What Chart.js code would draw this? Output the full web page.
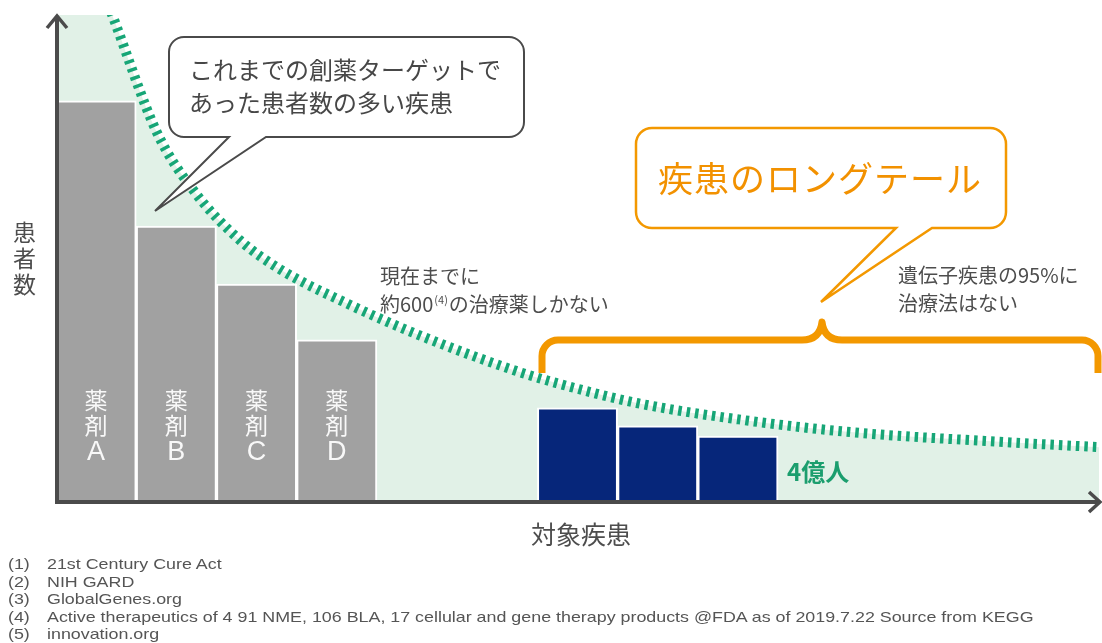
<!DOCTYPE html>
<html lang="ja">
<head>
<meta charset="utf-8">
<script src="https://cdn.jsdelivr.net/npm/chart.js@4"></script>
<style>
    body { margin: 0; background: #fff; }
    .wrap { position: relative; width: 1102px; height: 643px; overflow: hidden; font-family: "Noto Sans CJK JP", sans-serif; color: #4d4d4d; }
    canvas { position: absolute; left: 0; top: 0; }
    .t { position: absolute; white-space: nowrap; line-height: 1; }
    .callout { font-size: 24px; color: #474747; }
    .note { font-size: 20px; }
    .note sup { font-size: 11px; vertical-align: 8px; margin: 0 1px; }
    .longtail { font-size: 35px; color: #f29100; letter-spacing: 1px; }
    .people { font-size: 24px; font-weight: bold; color: #1b9e6e; }
    .src { position: absolute; left: 0; font-family: "Liberation Sans", Arial, sans-serif; font-size: 15px; color: #555; white-space: nowrap; line-height: 1; }
    .src span { position: absolute; transform: scaleX(1.19); transform-origin: left center; }
</style>
</head>
<body>
<div class="wrap" id="wrap">
    <canvas id="chart" width="1102" height="643"></canvas>

    <div class="t callout" style="left:189px; top:57px">これまでの創薬ターゲットで</div>
    <div class="t callout" style="left:189px; top:90px">あった患者数の多い疾患</div>

    <div class="t longtail" style="left:658px; top:159px">疾患のロングテール</div>

    <div class="t note" style="left:380px; top:266px">現在までに</div>
    <div class="t note" style="left:380px; top:294px">約600<sup>(4)</sup>の治療薬しかない</div>

    <div class="t note" style="left:898px; top:265px">遺伝子疾患の95%に</div>
    <div class="t note" style="left:898px; top:293px">治療法はない</div>

    <div class="t people" style="left:787px; top:459px">4億人</div>

    <div class="t" style="left:13px; top:218px; font-size:23px; line-height:26px">患<br>者<br>数</div>
    <div class="t" style="left:531px; top:521px; font-size:25px">対象疾患</div>
</div>

<script>
// 棒の位置（スロット番号）と高さ
const drugSlots = [0, 1, 2, 3];
const drugLabels = ['A', 'B', 'C', 'D'];
const drugValues = [82.3, 56.5, 44.5, 33.0];

const tailSlots = [6, 7, 8];
const tailValues = [19.0, 15.3, 13.2];

// 患者数の曲線（点線）
const curveX = [-0.5, 0.21, 0.76, 1.21, 1.79, 2.29, 3.13, 4.04, 5.20, 5.74, 6.74, 8.06, 9.40, 11.26, 12.5];
const curveY = [130, 99.6, 75.7, 63.9, 53.6, 47.6, 40.5, 33.9, 26.8, 24.1, 20.0, 16.5, 14.0, 12.0, 10.9];

const sources = [
    '21st Century Cure Act',
    'NIH GARD',
    'GlobalGenes.org',
    'Active therapeutics of 4 91 NME, 106 BLA, 17 cellular and gene therapy products @FDA as of 2019.7.22 Source from KEGG',
    'innovation.org'
];

const wrap = document.getElementById('wrap');
sources.forEach((s, i) => {
    const row = document.createElement('div');
    row.className = 'src';
    row.style.top = (556 + i * 17.5) + 'px';
    row.innerHTML = `<span style="left:8px">(${i + 1})</span><span style="left:47px">${s}</span>`;
    wrap.appendChild(row);
});

const AXIS = '#4b4b4b';
const ORANGE = '#f39800';

function roundBubble(ctx, x1, y1, x2, y2, r, tailL, tailR, tipX, tipY) {
    ctx.beginPath();
    ctx.moveTo(x1 + r, y1);
    ctx.lineTo(x2 - r, y1);
    ctx.arcTo(x2, y1, x2, y1 + r, r);
    ctx.lineTo(x2, y2 - r);
    ctx.arcTo(x2, y2, x2 - r, y2, r);
    ctx.lineTo(tailR, y2);
    ctx.lineTo(tipX, tipY);
    ctx.lineTo(tailL, y2);
    ctx.lineTo(x1 + r, y2);
    ctx.arcTo(x1, y2, x1, y2 - r, r);
    ctx.lineTo(x1, y1 + r);
    ctx.arcTo(x1, y1, x1 + r, y1, r);
    ctx.closePath();
}

const decorations = {
    id: 'decorations',
    afterDatasetsDraw(chart) {
        const ctx = chart.ctx;
        const area = chart.chartArea;

        // 薬剤ラベル
        const meta = chart.getDatasetMeta(1);
        ctx.save();
        ctx.fillStyle = 'rgba(255,255,255,0.93)';
        ctx.textAlign = 'center';
        ctx.textBaseline = 'middle';
        meta.data.forEach((bar, i) => {
            ctx.font = '23px "Noto Sans CJK JP"';
            ctx.fillText('薬', bar.x, 400);
            ctx.fillText('剤', bar.x, 425);
            ctx.font = '27px "Liberation Sans"';
            ctx.fillText(drugLabels[i], bar.x, 453);
        });
        ctx.restore();

        // 軸と矢印
        const ax = area.left + 1;
        const ay = area.bottom + 2;
        ctx.save();
        ctx.strokeStyle = AXIS;
        ctx.lineWidth = 4;
        ctx.lineJoin = 'miter';
        ctx.beginPath();
        ctx.moveTo(ax, ay);
        ctx.lineTo(ax, area.top + 3);
        ctx.moveTo(ax - 2, ay);
        ctx.lineTo(area.right, ay);
        ctx.stroke();
        ctx.lineWidth = 3.5;
        ctx.beginPath();
        ctx.moveTo(ax - 10, area.top + 13);
        ctx.lineTo(ax, area.top + 1);
        ctx.lineTo(ax + 10, area.top + 13);
        ctx.moveTo(area.right - 10, ay - 10);
        ctx.lineTo(area.right + 1, ay);
        ctx.lineTo(area.right - 10, ay + 10);
        ctx.stroke();
        ctx.restore();

        // 吹き出し
        ctx.save();
        ctx.fillStyle = '#fff';
        ctx.strokeStyle = '#4a4a4a';
        ctx.lineWidth = 2;
        roundBubble(ctx, 169, 37, 524, 137, 15, 229, 266, 155, 211);
        ctx.fill();
        ctx.stroke();

        ctx.strokeStyle = ORANGE;
        ctx.lineWidth = 2.5;
        roundBubble(ctx, 636, 128, 1006, 228, 16, 896, 932, 821, 302);
        ctx.fill();
        ctx.stroke();

        // 波括弧
        ctx.lineWidth = 7;
        ctx.lineJoin = 'round';
        ctx.beginPath();
        ctx.moveTo(542, 373);
        ctx.lineTo(542, 356);
        ctx.arcTo(542, 340, 558, 340, 16);
        ctx.lineTo(802, 340);
        ctx.quadraticCurveTo(820, 340, 822, 322);
        ctx.quadraticCurveTo(824, 340, 842, 340);
        ctx.lineTo(1082, 340);
        ctx.arcTo(1098, 340, 1098, 356, 16);
        ctx.lineTo(1098, 373);
        ctx.stroke();
        ctx.restore();
    }
};

new Chart(document.getElementById('chart'), {
    data: {
        datasets: [
            {
                type: 'line',
                data: curveX.map((x, i) => ({ x, y: curveY[i] })),
                borderColor: '#17a677',
                borderWidth: 10,
                borderDash: [3.5, 5],
                borderCapStyle: 'butt',
                backgroundColor: '#e1f1e7',
                fill: 'origin',
                pointRadius: 0,
                cubicInterpolationMode: 'monotone',
                clip: 0,
                order: 3
            },
            {
                type: 'bar',
                data: drugSlots.map((x, i) => ({ x, y: drugValues[i] })),
                backgroundColor: '#a1a1a1',
                borderColor: '#ffffff',
                borderWidth: 2,
                grouped: false,
                barPercentage: 1,
                categoryPercentage: 1,
                order: 1
            },
            {
                type: 'bar',
                data: tailSlots.map((x, i) => ({ x, y: tailValues[i] })),
                backgroundColor: '#06267a',
                borderColor: '#ffffff',
                borderWidth: 2,
                grouped: false,
                barPercentage: 1,
                categoryPercentage: 1,
                order: 1
            }
        ]
    },
    options: {
        responsive: false,
        animation: false,
        events: [],
        layout: { padding: { left: 56, right: 3, top: 15, bottom: 143 } },
        plugins: {
            legend: { display: false },
            tooltip: { enabled: false },
            filler: { drawTime: 'beforeDatasetsDraw' }
        },
        scales: {
            x: { type: 'linear', min: -0.5, max: 12.5, offset: false, display: false },
            y: { min: 0, max: 100, display: false }
        }
    },
    plugins: [decorations]
});
</script>
</body>
</html>
